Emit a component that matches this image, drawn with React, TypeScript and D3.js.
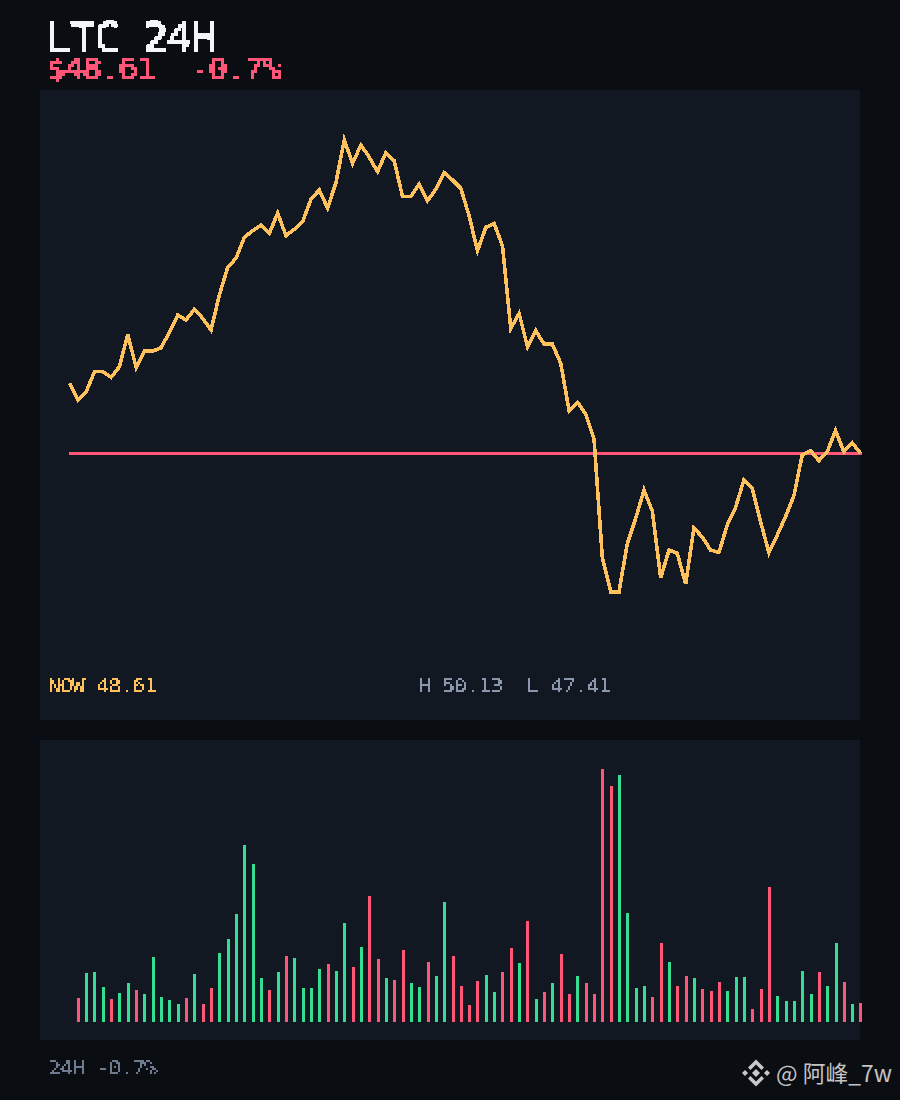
import React from 'react';
import * as d3 from 'd3';

const closes = [48.665,48.564,48.614,48.735,48.735,48.701,48.765,48.960,48.761,48.859,48.859,48.879,48.972,49.076,49.046,49.111,49.056,48.986,49.197,49.363,49.418,49.544,49.584,49.618,49.568,49.689,49.554,49.592,49.638,49.773,49.829,49.719,49.873,50.13,49.990,50.100,50.026,49.939,50.054,50.005,49.789,49.789,49.865,49.764,49.833,49.933,49.889,49.839,49.672,49.463,49.604,49.628,49.492,48.996,49.086,48.885,48.982,48.900,48.900,48.785,48.500,48.551,48.480,48.328,47.611,47.41,47.41,47.701,47.852,48.022,47.896,47.494,47.661,47.641,47.456,47.795,47.738,47.661,47.647,47.812,47.918,48.083,48.033,47.832,47.645,47.751,47.862,47.988,48.233,48.259,48.199,48.253,48.380,48.253,48.307,48.243];
const volumes = [24,49,50,35,23,29,39,32,28,65,25,22,18,24,48,18,34,69,83,108,177,158,44,32,50,66,64,34,34,53,58,51,99,55,75,126,63,44,42,72,39,35,60,46,120,66,36,17,41,47,30,50,74,59,101,23,30,39,68,28,46,39,28,253,236,247,109,34,36,25,79,60,36,46,44,33,31,40,31,45,45,13,33,135,26,21,21,51,28,50,36,79,40,18,19];
const refPrice = 48.243;
const titleText = 'LTC 24H';
const priceText = '$48.61';
const changeText = '-0.7%';
const nowText = 'NOW 48.61';
const rangeText = 'H 50.13  L 47.41';
const footerText = '24H -0.7%';
const watermarkText = '@ 阿峰_7w';

const BG = '#0a0d12';
const PANEL = '#111822';
const GOLD = '#ffc15c';
const RED = '#ff5577';
const GREEN = '#35dd93';

const x = d3.scaleLinear().domain([0, closes.length - 1]).range([69.5, 860.5]);
const y = d3.scaleLinear().domain([47.41, 50.13]).range([591.7, 140]);
const v = d3.scaleLinear().domain([0, 253]).range([1022, 769]);
const linePath = d3.line<number>().x((_, i) => x(i)).y(d => y(d)).curve(d3.curveLinear)(closes) as string;

const mono = "'DejaVu Sans Mono', monospace";
const STRETCH = 1.12;

function Pixel({ id, n, ox, oy, blur, thr }: { id: string; n: number; ox: number; oy: number; blur: number; thr: string }) {
  const common: any = { id, filterUnits: 'userSpaceOnUse', primitiveUnits: 'userSpaceOnUse', x: 0, y: 0, width: 900, height: 1100, colorInterpolationFilters: 'sRGB' };
  const sx = ox + Math.floor((n - 1) / 2);
  const sy = oy + Math.floor((n - 1) / 2);
  const sw = n === 4 ? 2 : 1;
  return (
    <filter {...common}>
      <feGaussianBlur in="SourceGraphic" stdDeviation={blur} result="soft" />
      <feFlood x={sx} y={sy} width={sw} height={sw} floodColor="#000" result="dot" />
      <feComposite in="dot" in2="dot" operator="over" x={ox} y={oy} width={n} height={n} result="cell" />
      <feTile in="cell" x={0} y={0} width={900} height={1100} result="grid" />
      <feComposite in="soft" in2="grid" operator="in" x={0} y={0} width={900} height={1100} result="s" />
      <feComponentTransfer in="s" result="t">
        <feFuncA type="discrete" tableValues={thr} />
      </feComponentTransfer>
      {n === 2 ? (
        <>
          <feOffset in="t" dx={1} dy={0} result="a" />
          <feOffset in="t" dx={0} dy={1} result="b" />
          <feOffset in="t" dx={1} dy={1} result="c" />
          <feMerge>
            <feMergeNode in="t" />
            <feMergeNode in="a" />
            <feMergeNode in="b" />
            <feMergeNode in="c" />
          </feMerge>
        </>
      ) : (
        <feMorphology in="t" operator="dilate" radius={1} />
      )}
    </filter>
  );
}

function Wide({ x0, base, size, fill, children }: { x0: number; base: number; size: number; fill: string; children: string }) {
  const adv = size * 0.602;
  const shift = (adv * (STRETCH - 1)) / 2;
  return (
    <text transform={`translate(${x0 - shift},${base}) scale(${STRETCH},1)`} fontSize={size} fill={fill}
      letterSpacing={adv * (1 / STRETCH - 1)} xmlSpace="preserve">{children}</text>
  );
}

export default function App() {
  return (
    <svg width={900} height={1100} viewBox="0 0 900 1100" style={{ position: 'absolute', left: 0, top: 0, display: 'block' }}>
      <defs>
        <Pixel id="px4" n={4} ox={2} oy={0} blur={1.1} thr="0 0 0 0 1 1 1 1 1 1" />
        <Pixel id="px3" n={3} ox={2} oy={1} blur={0.8} thr="0 0 0 0 1 1 1 1 1 1" />
        <Pixel id="px2" n={2} ox={0} oy={0} blur={0.5} thr="0 0 0 0 1 1 1 1 1 1" />
      </defs>
      <rect x={0} y={0} width={900} height={1100} fill={BG} />
      <rect x={40} y={90} width={820} height={630} fill={PANEL} />
      <rect x={40} y={740} width={820} height={300} fill={PANEL} />

      <g filter="url(#px4)" fontFamily={mono}>
        <Wide x0={47} base={52} size={40} fill="#f2f5f9">{titleText}</Wide>
      </g>
      <g filter="url(#px3)" fontFamily={mono}>
        <Wide x0={47} base={79} size={30} fill={RED}>{priceText}</Wide>
        <Wide x0={191} base={79} size={30} fill={RED}>{changeText}</Wide>
      </g>

      <line x1={69} x2={862} y1={y(refPrice)} y2={y(refPrice)} stroke={RED} strokeWidth={3} shapeRendering="crispEdges" />
      <path d={linePath} fill="none" stroke={GOLD} strokeWidth={3.6} strokeLinejoin="miter" shapeRendering="crispEdges" />

      <g filter="url(#px2)" fontFamily={mono}>
        <Wide x0={48} base={692} size={20} fill={GOLD}>{nowText}</Wide>
        <Wide x0={418} base={692} size={20} fill="#8b97ad">{rangeText}</Wide>
        <Wide x0={48} base={1074} size={20} fill="#6f7c91">{footerText}</Wide>
      </g>

      {volumes.map((d, i) => (
        <rect key={i} x={Math.round(x(i + 1) - 1.01)} y={v(d)} width={3} height={v(0) - v(d)}
          fill={closes[i + 1] >= closes[i] ? GREEN : RED} shapeRendering="crispEdges" />
      ))}

      <g transform="translate(756,1073)" fill="#c9c9c9">
        <path d="M0,-4 L4,0 L0,4 L-4,0 Z" />
        <path d="M-11,-3 L-8,0 L-11,3 L-14,0 Z" />
        <path d="M11,-3 L14,0 L11,3 L8,0 Z" />
        <path d="M0,-13.5 L8,-5.5 L5.5,-3 L0,-8.5 L-5.5,-3 L-8,-5.5 Z" />
        <path d="M0,13.5 L8,5.5 L5.5,3 L0,8.5 L-5.5,3 L-8,5.5 Z" />
      </g>
      <text x={776} y={1082} fontSize={22.8} fill="#c4c4c4" fontFamily="'Noto Sans CJK SC', sans-serif" xmlSpace="preserve">{watermarkText}</text>
    </svg>
  );
}
